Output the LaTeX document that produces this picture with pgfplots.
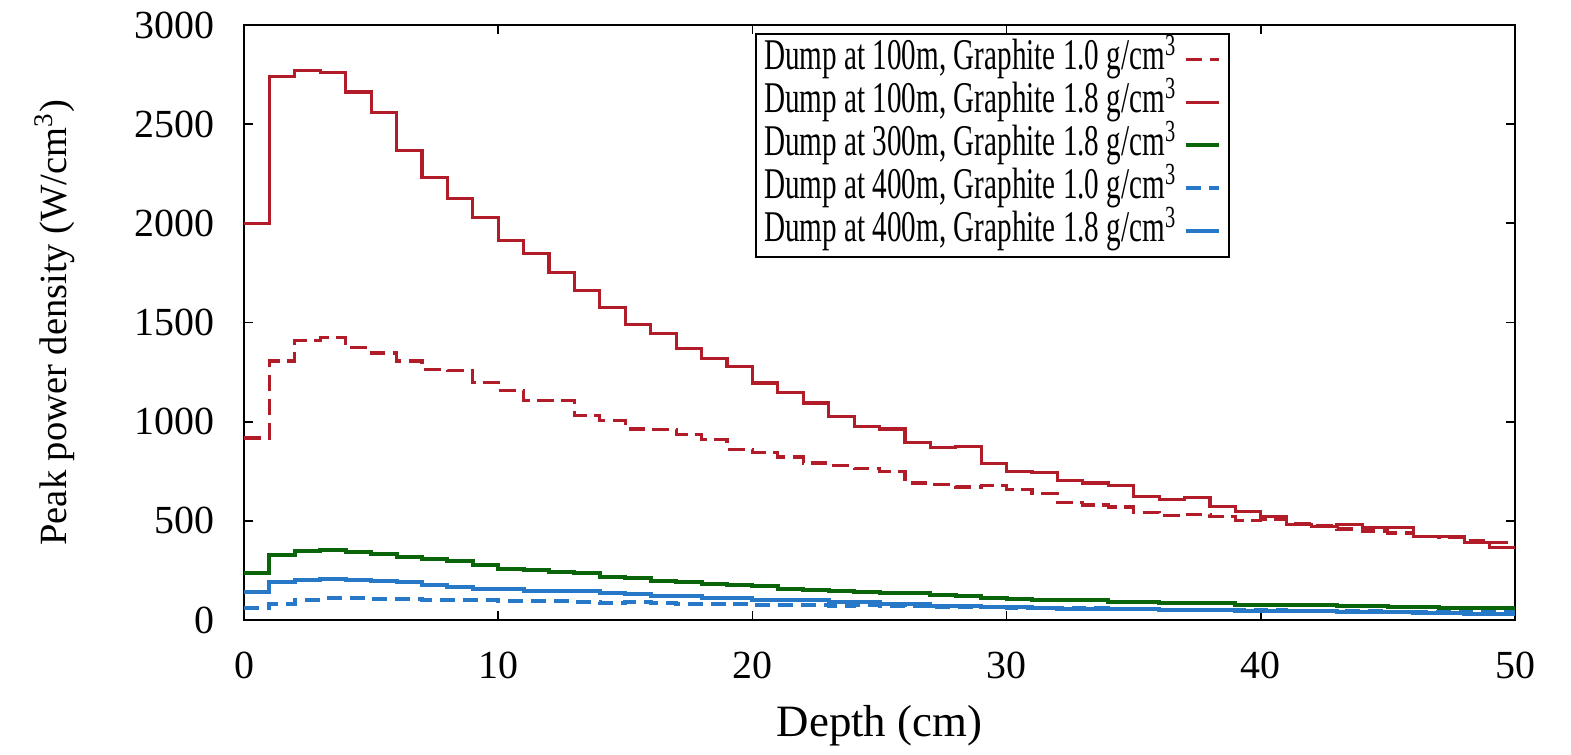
\documentclass[border=0pt]{standalone}
\usepackage{fontspec}
\setmainfont{Liberation Serif}
\newfontfamily\legfont{Liberation Serif}[FakeStretch=0.665]
\usepackage{pgfplots}
\usepackage{pgfplotstable}
\pgfplotsset{compat=1.18}

\definecolor{dred}{RGB}{178,28,40}
\definecolor{dgreen}{RGB}{10,100,10}
\definecolor{lblue}{RGB}{40,120,200}

% depth bins of 1 cm, value per bin; last row repeats bin 49 to close the step at 50
\pgfplotstableread{
x rd rs g bd bs
0 918 2000 238 63 140
1 1306 2740 328 83 194
2 1410 2770 349 103 200
3 1423 2760 355 110 207
4 1373 2662 345 110 204
5 1346 2558 335 107 197
6 1306 2367 318 107 190
7 1262 2229 308 103 177
8 1258 2125 295 103 167
9 1198 2031 275 103 157
10 1158 1913 258 97 154
11 1107 1846 251 97 147
12 1107 1752 241 97 144
13 1030 1661 238 93 144
14 1004 1575 218 87 134
15 963 1490 211 90 130
16 960 1443 197 87 120
17 934 1369 194 80 120
18 909 1319 184 80 113
19 859 1279 174 83 110
20 845 1195 170 77 103
21 822 1148 157 77 103
22 792 1094 150 77 100
23 778 1024 147 70 93
24 762 976 140 74 90
25 750 963 137 72 83
26 691 896 134 70 80
27 683 869 127 68 73
28 671 876 120 66 70
29 678 788 113 64 67
30 657 748 107 62 66
31 637 745 103 62 60
32 593 704 103 60 57
33 580 691 100 58 56
34 570 678 93 56 53
35 543 621 93 55 53
36 526 607 87 52 50
37 533 617 85 52 50
38 520 573 85 50 48
39 500 547 78 50 47
40 506 523 78 48 46
41 486 483 78 47 45
42 476 473 76 46 44
43 459 480 71 45 42
44 449 466 71 44 40
45 439 466 64 42 38
46 419 419 64 40 36
47 416 419 58 40 34
48 399 389 58 38 32
49 389 364 58 38 32
50 389 364 58 38 32
}\dumpdata

\begin{document}
\begin{tikzpicture}
\useasboundingbox (-73.2bp,-40.5bp) rectangle (398.1bp,186bp);
\begin{axis}[
    scale only axis,
    width=381.3bp, height=178.5bp,
    xmin=0, xmax=50, ymin=0, ymax=3000,
    xtick={0,10,...,50},
    ytick={0,500,...,3000},
    scaled y ticks=false,
    /pgf/number format/1000 sep={},
    /pgf/number format/assume math mode=true,
    tick align=inside,
    major tick length=2.8bp,
    tick style={black, line width=0.5bp},
    axis line style={line width=0.6bp},
    ticklabel style={font=\fontsize{12}{12}\selectfont},
    xticklabel style={anchor=north, inner sep=0pt, yshift=-9.3bp},
    yticklabel style={anchor=east, inner sep=0pt, xshift=-8.7bp},
    xlabel={Depth (cm)},
    ylabel={Peak power density (W/cm\textsuperscript{3})},
    xlabel style={at={(axis description cs:0.5,0)}, anchor=north, inner sep=0pt, yshift=-25.5bp, font=\fontsize{13.5}{13.5}\selectfont},
    ylabel style={at={(axis description cs:-0.1322,0.5)}, anchor=south, inner sep=0pt, font=\fontsize{11.6}{11.6}\selectfont},
    legend plot pos=right,
    legend cell align=left,
    legend image code/.code={\draw[#1] (0bp,0bp) -- (10bp,0bp);},
    legend style={at={(0.7758,0.9866)}, anchor=north east, draw=black, line width=0.5bp,
        inner xsep=2.5bp, inner ysep=1.2bp, column sep=2bp,
        font=\legfont\fontsize{13.2}{13.2}\selectfont,
        nodes={inner sep=0pt, text height=9.6bp, text depth=3.3bp}},
]
\addplot[const plot mark left, no marks, dred, line width=0.95bp, dash pattern=on 5bp off 2.2bp] table[x=x, y=rd] {\dumpdata};
\addlegendentry{Dump at 100m, Graphite 1.0 g/cm\textsuperscript{3}}
\addplot[const plot mark left, no marks, dred, line width=0.95bp] table[x=x, y=rs] {\dumpdata};
\addlegendentry{Dump at 100m, Graphite 1.8 g/cm\textsuperscript{3}}
\addplot[const plot mark left, no marks, dgreen, line width=1.2bp] table[x=x, y=g] {\dumpdata};
\addlegendentry{Dump at 300m, Graphite 1.8 g/cm\textsuperscript{3}}
\addplot[const plot mark left, no marks, lblue, line width=1.2bp, dash pattern=on 4.5bp off 2.4bp] table[x=x, y=bd] {\dumpdata};
\addlegendentry{Dump at 400m, Graphite 1.0 g/cm\textsuperscript{3}}
\addplot[const plot mark left, no marks, lblue, line width=1.2bp] table[x=x, y=bs] {\dumpdata};
\addlegendentry{Dump at 400m, Graphite 1.8 g/cm\textsuperscript{3}}
\end{axis}
\end{tikzpicture}
\end{document}
